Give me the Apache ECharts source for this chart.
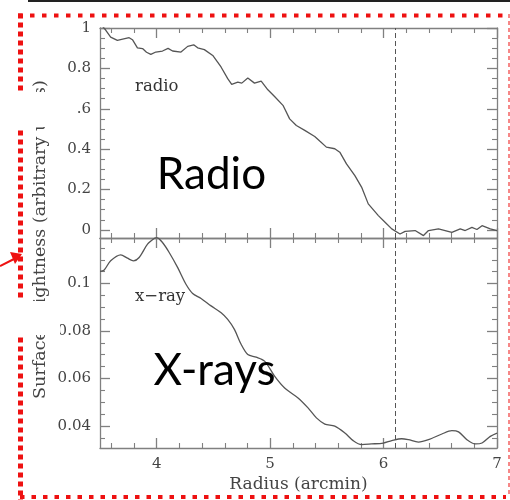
<!DOCTYPE html>
<html>
<head>
<meta charset="utf-8">
<script src="https://cdn.jsdelivr.net/npm/echarts@6/dist/echarts.min.js"></script>
<style>html,body{margin:0;padding:0;background:#fff}#c{width:510px;height:500px}</style>
</head>
<body>
<div id="c"></div>
<script>
// ---- data ----
const radioRadius = [3.5,3.52,3.55,3.594,3.653,3.70,3.757,3.786,3.83,3.875,3.91,3.948,3.992,4.051,4.10,4.14,4.214,4.273,4.326,4.361,4.42,4.494,4.567,4.626,4.661,4.715,4.75,4.803,4.862,4.921,4.98,5.039,5.113,5.172,5.231,5.305,5.393,5.437,5.496,5.57,5.614,5.673,5.747,5.806,5.865,5.954,6.013,6.072,6.145,6.19,6.278,6.352,6.396,6.484,6.543,6.602,6.676,6.72,6.779,6.823,6.868,6.941,7.0];
const radioValue  = [1.04,1.01,0.99,0.955,0.939,0.945,0.952,0.942,0.902,0.898,0.88,0.869,0.881,0.886,0.899,0.886,0.881,0.909,0.917,0.902,0.893,0.864,0.807,0.749,0.721,0.732,0.727,0.752,0.727,0.737,0.694,0.661,0.617,0.550,0.517,0.493,0.463,0.44,0.41,0.402,0.385,0.327,0.269,0.212,0.129,0.071,0.038,0.005,-0.02,-0.007,-0.003,-0.028,-0.003,0.005,-0.003,-0.012,0.005,-0.003,0.013,0.002,0.021,0.005,-0.003];
const xrayRadius = [3.5,3.535,3.594,3.683,3.742,3.795,3.845,3.919,3.978,4.0,4.051,4.11,4.184,4.258,4.317,4.391,4.479,4.568,4.626,4.685,4.744,4.803,4.877,4.951,5.039,5.128,5.246,5.334,5.408,5.482,5.57,5.659,5.732,5.806,5.894,5.998,6.072,6.16,6.219,6.307,6.396,6.514,6.602,6.661,6.735,6.809,6.868,6.941,7.0];
const xrayValue  = [0.1051,0.1056,0.1096,0.1121,0.1107,0.1096,0.111,0.1166,0.1190,0.1194,0.1173,0.1131,0.1068,0.0997,0.0958,0.0937,0.0906,0.0877,0.0849,0.0807,0.0744,0.0701,0.069,0.0673,0.061,0.056,0.0518,0.0476,0.0434,0.0408,0.0399,0.037,0.0338,0.0321,0.0324,0.0328,0.0338,0.0346,0.0342,0.0332,0.0342,0.0366,0.038,0.0375,0.0342,0.0324,0.0328,0.0356,0.037];

const xMajorTicks = [4,5,6,7];
const xMinorTicks = [3.6,3.8,4.2,4.4,4.6,4.8,5.2,5.4,5.6,5.8,6.2,6.4,6.6,6.8];
const radioYTicks = [0,0.2,0.4,0.6,0.8,1];
const radioYLabels = ['0','0.2','0.4','0.6','0.8','1'];
const radioYMinor = [0.05,0.1,0.15,0.25,0.3,0.35,0.45,0.5,0.55,0.65,0.7,0.75,0.85,0.9,0.95];
const xrayYTicks = [0.04,0.06,0.08,0.1];
const xrayYLabels = ['0.04','0.06','0.08','0.1'];
const xrayYMinor = [0.035,0.045,0.05,0.055,0.065,0.07,0.075,0.085,0.09,0.095,0.105,0.11,0.115];
const xTickLabels = ['4','5','6','7'];
const boundaryRadius = 6.1;

// ---- chart ----
const FRAME = '#808080';
const LBL = {fontFamily:'DejaVu Serif', fontSize:15, color:'#444'};
const X0 = 3.5, X1 = 7;
const grids = [
  {left:100, top:28, width:397, height:210, yMin:-0.04, yMax:1.0, yMaj:radioYTicks, yLab:radioYLabels, yMin2:radioYMinor, xLabels:false},
  {left:100, top:238, width:397, height:210, yMin:0.0307, yMax:0.1192, yMaj:xrayYTicks, yLab:xrayYLabels, yMin2:xrayYMinor, xLabels:true}
];
const xAxis = [], yAxis = [];
grids.forEach((g, gi) => {
  ['bottom','top'].forEach(pos => {
    xAxis.push({gridIndex:gi, type:'value', min:X0, max:X1, position:pos,
      axisLine:{show:true, onZero:false, lineStyle:{color:FRAME, width:1.3}},
      axisTick:{show:true, inside:true, length:10, customValues:xMajorTicks, lineStyle:{color:FRAME, width:1.3}},
      axisLabel:(pos==='bottom' && g.xLabels) ? Object.assign({show:true, margin:9, customValues:xMajorTicks,
        formatter:(v)=>{const i=xMajorTicks.indexOf(v);return i>=0?xTickLabels[i]:'';}}, LBL) : {show:false},
      splitLine:{show:false}});
    xAxis.push({gridIndex:gi, type:'value', min:X0, max:X1, position:pos,
      axisLine:{show:false, onZero:false},
      axisTick:{show:true, inside:true, length:5, customValues:xMinorTicks, lineStyle:{color:FRAME, width:1.1}},
      axisLabel:{show:false}, splitLine:{show:false}});
  });
  ['left','right'].forEach(pos => {
    yAxis.push({gridIndex:gi, type:'value', min:g.yMin, max:g.yMax, position:pos,
      axisLine:{show:true, onZero:false, lineStyle:{color:FRAME, width:1.3}},
      axisTick:{show:true, inside:true, length:10, customValues:g.yMaj, lineStyle:{color:FRAME, width:1.3}},
      axisLabel:pos==='left' ? Object.assign({show:true, margin:9, customValues:g.yMaj,
        formatter:(v)=>{let i=-1; g.yMaj.forEach((t,k)=>{if(Math.abs(t-v)<1e-9)i=k;}); return i>=0?g.yLab[i]:'';}}, LBL) : {show:false},
      splitLine:{show:false}});
    yAxis.push({gridIndex:gi, type:'value', min:g.yMin, max:g.yMax, position:pos,
      axisLine:{show:false, onZero:false},
      axisTick:{show:true, inside:true, length:5, customValues:g.yMin2, lineStyle:{color:FRAME, width:1.1}},
      axisLabel:{show:false}, splitLine:{show:false}});
  });
});

const mk = {silent:true, symbol:['none','none'], label:{show:false},
  lineStyle:{color:'#555', width:1, type:[5,3]}, data:[{xAxis:boundaryRadius}], animation:false};

const series = [
  {type:'line', xAxisIndex:0, yAxisIndex:0, showSymbol:false, symbol:'none', clip:true,
   lineStyle:{color:'#555', width:1.3}, data:radioRadius.map((r,i)=>[r, radioValue[i]]), markLine:mk},
  {type:'line', xAxisIndex:4, yAxisIndex:4, showSymbol:false, symbol:'none', clip:true, smooth:0.3,
   lineStyle:{color:'#555', width:1.3}, data:xrayRadius.map((r,i)=>[r, xrayValue[i]]), markLine:mk}
];

const RED = '#ee1111';
const graphic = [
  {type:'line', z:100, shape:{x1:28,y1:1,x2:510,y2:1}, style:{stroke:'#222', lineWidth:2}},
  {type:'text', z:100, x:40, y:239.5, rotation:Math.PI/2,
   style:{text:'Surface Brightness (arbitrary units)', font:'17.5px "DejaVu Serif"', fill:'#444', align:'center', verticalAlign:'middle'}},
  {type:'line', z:100, shape:{x1:18,y1:15.5,x2:506,y2:15.5}, style:{stroke:RED, lineWidth:4, lineDash:[4.5,7.5]}},
  {type:'line', z:100, shape:{x1:20.5,y1:13.5,x2:20.5,y2:500}, style:{stroke:RED, lineWidth:5, lineDash:[5,4]}},
  {type:'line', z:100, shape:{x1:20,y1:497,x2:506,y2:497}, style:{stroke:RED, lineWidth:4, lineDash:[4.5,7]}},
  {type:'line', z:100, shape:{x1:509,y1:14,x2:509,y2:497}, style:{stroke:RED, lineWidth:1, lineDash:[4,3]}},
  {type:'rect', z:101, shape:{x:0,y:92,width:77,height:35}, style:{fill:'#fff'}},
  {type:'rect', z:101, shape:{x:0,y:301,width:60,height:34}, style:{fill:'#fff'}},
  {type:'line', z:102, shape:{x1:0,y1:266,x2:14,y2:259}, style:{stroke:RED, lineWidth:2}},
  {type:'polygon', z:102, shape:{points:[[22,254],[10,252],[15,264]]}, style:{fill:RED}},
  {type:'text', z:100, x:135, y:87, style:{text:'radio', font:'16.5px "DejaVu Serif"', fill:'#333', align:'left', verticalAlign:'middle'}},
  {type:'text', z:100, x:135, y:297, style:{text:'x\u2212ray', font:'16.5px "DejaVu Serif"', fill:'#333', align:'left', verticalAlign:'middle'}},
  {type:'text', z:100, x:211.5, y:175, style:{text:'Radio', font:'44px Lato', fill:'#000', align:'center', verticalAlign:'middle'}},
  {type:'text', z:100, x:214.5, y:371, style:{text:'X-rays', font:'44px Lato', fill:'#000', align:'center', verticalAlign:'middle'}},
  {type:'text', z:100, x:298.5, y:485, style:{text:'Radius (arcmin)', font:'17px "DejaVu Serif"', fill:'#444', align:'center', verticalAlign:'middle'}}
];

const chart = echarts.init(document.getElementById('c'), null, {renderer:'canvas'});
chart.setOption({
  animation:false,
  grid: grids.map(g=>({left:g.left, top:g.top, width:g.width, height:g.height, containLabel:false})),
  xAxis, yAxis, series, graphic
});
</script>
</body>
</html>
